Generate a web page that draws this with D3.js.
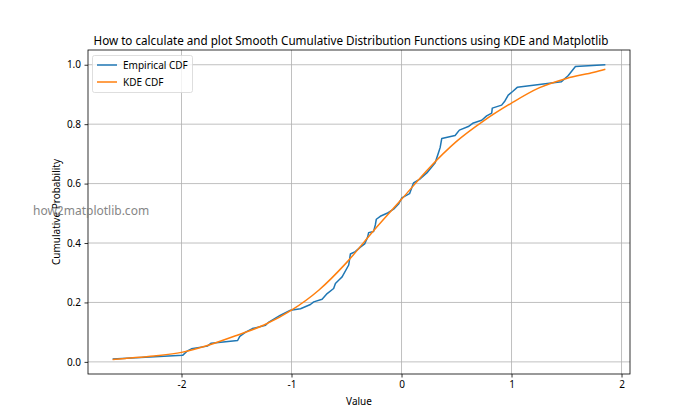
<!DOCTYPE html>
<meta charset="utf-8">
<style>
  body { margin: 0; background: #fff; }
  text { font-family: "Noto Sans", "DejaVu Sans", sans-serif; }
</style>
<svg id="chart" width="700" height="420"></svg>
<script src="https://d3js.org/d3.v7.min.js"></script>
<script>
// empirical CDF vertices (value, cumulative probability)
var empX = [-2.626, -1.99, -1.95, -1.91, -1.765, -1.73, -1.49, -1.47, -1.417, -1.356, -1.236, -1.206,
  -1.10, -1.009, -0.918, -0.828, -0.798, -0.722, -0.676, -0.617, -0.601, -0.562, -0.54, -0.48,
  -0.465, -0.42, -0.374, -0.335, -0.308, -0.299, -0.254, -0.238, -0.229, -0.193, -0.132, -0.072,
  -0.027, 0.003, 0.073, 0.109, 0.163, 0.23, 0.306, 0.336, 0.351, 0.366, 0.487, 0.526, 0.607,
  0.647, 0.729, 0.774, 0.82, 0.825, 0.91, 0.94, 0.97, 1.01, 1.052, 1.454, 1.514, 1.581, 1.853]
var empY = [0.01, 0.022, 0.036, 0.044, 0.053, 0.063, 0.072, 0.086, 0.10, 0.112, 0.123, 0.134,
  0.157, 0.174, 0.179, 0.193, 0.202, 0.211, 0.23, 0.247, 0.264, 0.278, 0.286, 0.326,
  0.363, 0.371, 0.386, 0.397, 0.42, 0.435, 0.439, 0.461, 0.48, 0.49, 0.50, 0.514,
  0.531, 0.552, 0.566, 0.602, 0.614, 0.636, 0.67, 0.704, 0.721, 0.752, 0.762, 0.78, 0.792,
  0.803, 0.813, 0.828, 0.837, 0.854, 0.864, 0.878, 0.898, 0.91, 0.924, 0.943, 0.963, 0.994, 1.0]

// smooth KDE CDF samples
var kdeX = [-2.626, -2.5, -2.25, -2.0, -1.75, -1.5, -1.25, -1.0, -0.75, -0.5, -0.25, 0.0,
  0.25, 0.5, 0.75, 1.0, 1.25, 1.5, 1.75, 1.853]
var kdeY = [0.008, 0.012, 0.02, 0.032, 0.057, 0.089, 0.124, 0.174, 0.242, 0.334, 0.443, 0.547,
  0.652, 0.742, 0.812, 0.871, 0.922, 0.954, 0.975, 0.985]

var xTicks = [-2, -1, 0, 1, 2]
var yTicks = [0.0, 0.2, 0.4, 0.6, 0.8, 1.0]
var seriesNames = ["Empirical CDF", "KDE CDF"]
var seriesColors = ["#1f77b4", "#ff7f0e"]

var svg = d3.select("#chart")
var mLeft = 88, mRight = 630, mTop = 50, mBottom = 374

var x = d3.scaleLinear().domain([-2.85, 2.077]).range([mLeft, mRight])
var y = d3.scaleLinear().domain([-0.0408, 1.0496]).range([mBottom, mTop])

// grid
var grid = svg.append("g")
grid.selectAll(".gx").data(xTicks).join("line")
  .attr("x1", d => x(d)).attr("x2", d => x(d))
  .attr("y1", mTop).attr("y2", mBottom)
  .attr("stroke", "#b0b0b0").attr("stroke-width", 0.8)
grid.selectAll(".gy").data(yTicks).join("line")
  .attr("y1", d => y(d)).attr("y2", d => y(d))
  .attr("x1", mLeft).attr("x2", mRight)
  .attr("stroke", "#b0b0b0").attr("stroke-width", 0.8)

// lines
svg.append("clipPath").attr("id", "clip")
  .append("rect").attr("x", mLeft).attr("y", mTop)
  .attr("width", mRight - mLeft).attr("height", mBottom - mTop)

var line = d3.line().x(d => x(d[0])).y(d => y(d[1]))
var smooth = d3.line().x(d => x(d[0])).y(d => y(d[1])).curve(d3.curveMonotoneX)

svg.append("path")
  .datum(d3.zip(empX, empY))
  .attr("d", line)
  .attr("fill", "none").attr("stroke", seriesColors[0]).attr("stroke-width", 1.5)
  .attr("stroke-linejoin", "round").attr("clip-path", "url(#clip)")

svg.append("path")
  .datum(d3.zip(kdeX, kdeY))
  .attr("d", smooth)
  .attr("fill", "none").attr("stroke", seriesColors[1]).attr("stroke-width", 1.5)
  .attr("clip-path", "url(#clip)")

// axes
var xAxis = svg.append("g").attr("transform", "translate(0," + mBottom + ")")
  .call(d3.axisBottom(x).tickValues(xTicks).tickSize(3.5).tickPadding(3.5)
    .tickFormat(d => String(d)))
var yAxis = svg.append("g").attr("transform", "translate(" + mLeft + ",0)")
  .call(d3.axisLeft(y).tickValues(yTicks).tickSize(3.5).tickPadding(3.5)
    .tickFormat(d3.format(".1f")))
;[xAxis, yAxis].forEach(a => {
  a.select(".domain").remove()
  a.selectAll("line").attr("stroke", "#000").attr("stroke-width", 0.8)
  a.selectAll("text").attr("font-size", 10).attr("fill", "#000")
    .style("font-family", "Noto Sans, DejaVu Sans, sans-serif")
})

// spines
svg.append("rect")
  .attr("x", mLeft).attr("y", mTop).attr("width", mRight - mLeft).attr("height", mBottom - mTop)
  .attr("fill", "none").attr("stroke", "#000").attr("stroke-width", 0.8)

// title and labels
svg.append("text")
  .attr("x", (mLeft + mRight) / 2 - 8).attr("y", 45)
  .attr("text-anchor", "middle").attr("font-size", 12)
  .attr("textLength", 515).attr("lengthAdjust", "spacingAndGlyphs")
  .text("How to calculate and plot Smooth Cumulative Distribution Functions using KDE and Matplotlib")

svg.append("text")
  .attr("x", (mLeft + mRight) / 2).attr("y", 405)
  .attr("text-anchor", "middle").attr("font-size", 10)
  .text("Value")

svg.append("text")
  .attr("transform", "translate(60," + ((mTop + mBottom) / 2) + ") rotate(-90)")
  .attr("text-anchor", "middle").attr("font-size", 10)
  .text("Cumulative Probability")

// watermark
svg.append("text")
  .attr("x", 33).attr("y", 215)
  .attr("font-size", 12)
  .attr("fill", "#808080").attr("opacity", 0.95)
  .text("how2matplotlib.com")

// legend
var legend = svg.append("g")
legend.append("rect")
  .attr("x", 92.5).attr("y", 55.5).attr("width", 100).attr("height", 37).attr("rx", 2)
  .attr("fill", "#fff").attr("fill-opacity", 0.8).attr("stroke", "#d6d6d6").attr("stroke-width", 0.8)
var items = legend.selectAll(".item").data(seriesNames).join("g")
  .attr("transform", (d, i) => "translate(0," + (65 + i * 17) + ")")
items.append("line").attr("x1", 97).attr("x2", 117).attr("y1", 0).attr("y2", 0)
  .attr("stroke", (d, i) => seriesColors[i]).attr("stroke-width", 1.5)
items.append("text").attr("x", 123).attr("y", 3.5).attr("font-size", 10)
  .text(d => d)
</script>
